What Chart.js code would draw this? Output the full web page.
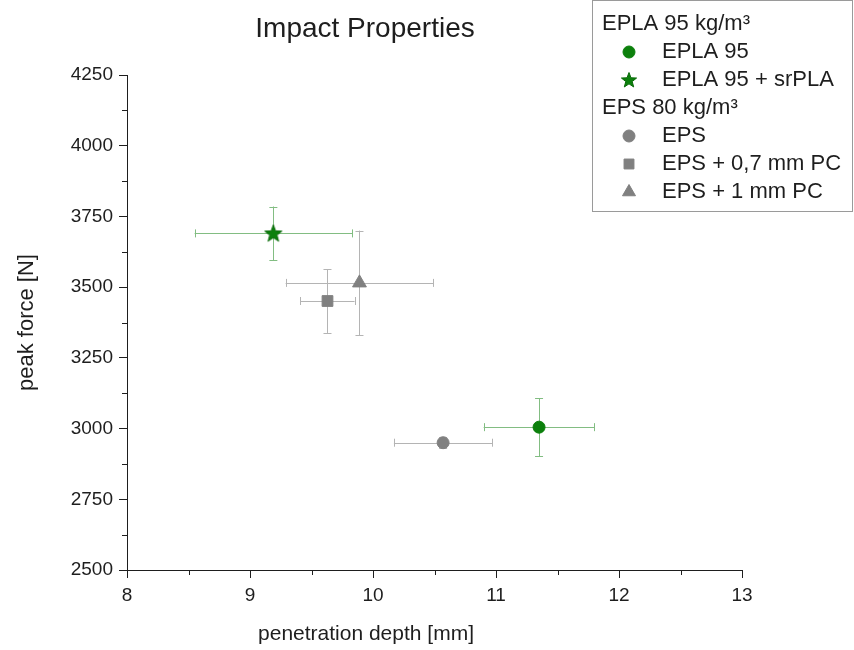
<!DOCTYPE html>
<html><head><meta charset="utf-8">
<script src="https://cdn.jsdelivr.net/npm/chart.js@4.4.1/dist/chart.umd.min.js"></script>
<style>html,body{margin:0;padding:0;background:#fff}#wrap{width:854px;height:650px;position:relative}</style>
</head><body><div id="wrap"><canvas id="c"></canvas></div>
<script>
// ---- data ----
const chartTitle = 'Impact Properties';
const xTitle = 'penetration depth [mm]';
const yTitle = 'peak force [N]';
const seriesNames = ['EPLA 95', 'EPLA 95 + srPLA', 'EPS', 'EPS + 0,7 mm PC', 'EPS + 1 mm PC'];
const groupNames = ['EPLA 95 kg/m³', 'EPS 80 kg/m³'];
const seriesGroup = [0, 0, 1, 1, 1];
const depth = [11.35, 9.19, 10.57, 9.63, 9.89];
const depthErr = [0.45, 0.64, 0.40, 0.22, 0.60];
const force = [3005, 3690, 2950, 3451, 3515];
const forceErr = [103, 95, 20, 113, 185];
const xTicks = [8, 9, 10, 11, 12, 13];
const yTicks = [2500, 2750, 3000, 3250, 3500, 3750, 4000, 4250];

// ---- styles ----
const groupColor = ['#0c800c', '#808080'];
const groupErrColor = ['#82bd82', '#b4b4b4'];
const FONT = "'Liberation Sans', Arial, sans-serif";
const TXT = '#1e1e1e';

function makeStar(r, fill, stroke) {
  const c = document.createElement('canvas');
  const s = Math.ceil(r * 2 + 2);
  c.width = s; c.height = s;
  const g = c.getContext('2d');
  g.beginPath();
  for (let k = 0; k < 10; k++) {
    const rr = k % 2 === 0 ? r : r * 0.42;
    const a = -Math.PI / 2 + k * Math.PI / 5;
    const px = s / 2 + rr * Math.cos(a), py = s / 2 + 0.5 + rr * Math.sin(a);
    k === 0 ? g.moveTo(px, py) : g.lineTo(px, py);
  }
  g.closePath();
  g.fillStyle = fill; g.fill();
  g.strokeStyle = stroke; g.lineWidth = 1; g.stroke();
  return c;
}
const starImg = makeStar(9, '#0c800c', '#0a6a0a');
const starImgLeg = makeStar(8, '#0c800c', '#0a6a0a');
const pointStyles = ['circle', starImg, 'circle', 'rect', 'triangle'];
const legendStyles = ['circle', starImgLeg, 'circle', 'rect', 'triangle'];
const pointRadius = [6, 9, 6, 7.6, 8];
const legendRadius = [6, 8, 6, 7, 7.5];

const datasets = seriesNames.map((n, i) => ({
  label: n,
  data: [{ x: depth[i], y: force[i] }],
  pointStyle: pointStyles[i],
  pointRadius: pointRadius[i],
  pointHoverRadius: pointRadius[i],
  backgroundColor: groupColor[seriesGroup[i]],
  borderColor: groupColor[seriesGroup[i]],
  borderWidth: 1,
  showLine: false
}));

const errorBars = {
  id: 'errorBars',
  beforeDatasetsDraw(chart) {
    const { ctx, scales: { x, y } } = chart;
    ctx.save();
    ctx.lineWidth = 1;
    for (let i = 0; i < depth.length; i++) {
      ctx.strokeStyle = groupErrColor[seriesGroup[i]];
      const cx = x.getPixelForValue(depth[i]), cy = y.getPixelForValue(force[i]);
      const x0 = x.getPixelForValue(depth[i] - depthErr[i]), x1 = x.getPixelForValue(depth[i] + depthErr[i]);
      const y0 = y.getPixelForValue(force[i] - forceErr[i]), y1 = y.getPixelForValue(force[i] + forceErr[i]);
      const cap = 4;
      ctx.beginPath();
      ctx.moveTo(x0, Math.round(cy) + 0.5); ctx.lineTo(x1, Math.round(cy) + 0.5);
      ctx.moveTo(Math.round(x0) + 0.5, cy - cap); ctx.lineTo(Math.round(x0) + 0.5, cy + cap);
      ctx.moveTo(Math.round(x1) + 0.5, cy - cap); ctx.lineTo(Math.round(x1) + 0.5, cy + cap);
      ctx.moveTo(Math.round(cx) + 0.5, y0); ctx.lineTo(Math.round(cx) + 0.5, y1);
      ctx.moveTo(cx - cap, Math.round(y0) + 0.5); ctx.lineTo(cx + cap, Math.round(y0) + 0.5);
      ctx.moveTo(cx - cap, Math.round(y1) + 0.5); ctx.lineTo(cx + cap, Math.round(y1) + 0.5);
      ctx.stroke();
    }
    ctx.restore();
  }
};

const minorTicks = {
  id: 'minorTicks',
  afterDraw(chart) {
    const { ctx, scales: { x, y }, chartArea } = chart;
    ctx.save();
    ctx.strokeStyle = TXT; ctx.lineWidth = 1;
    ctx.beginPath();
    for (let k = 0; k < xTicks.length - 1; k++) {
      const px = Math.round(x.getPixelForValue((xTicks[k] + xTicks[k + 1]) / 2)) + 0.5;
      ctx.moveTo(px, chartArea.bottom); ctx.lineTo(px, chartArea.bottom + 5);
    }
    for (let k = 0; k < yTicks.length - 1; k++) {
      const py = Math.round(y.getPixelForValue((yTicks[k] + yTicks[k + 1]) / 2)) + 0.5;
      ctx.moveTo(chartArea.left, py); ctx.lineTo(chartArea.left - 5, py);
    }
    ctx.stroke();
    ctx.restore();
  }
};

const texts = {
  id: 'texts',
  afterDraw(chart) {
    const ctx = chart.ctx;
    ctx.save();
    ctx.fillStyle = TXT;
    ctx.textAlign = 'center';
    ctx.textBaseline = 'alphabetic';
    ctx.font = '28px ' + FONT;
    ctx.fillText(chartTitle, 365, 37);
    ctx.font = '21px ' + FONT;
    ctx.fillText(xTitle, 366, 640);
    ctx.restore();
  }
};

function drawMarker(ctx, style, r, color, px, py) {
  ctx.save();
  ctx.fillStyle = color; ctx.strokeStyle = color; ctx.lineWidth = 1;
  if (Chart.helpers && Chart.helpers.drawPoint) {
    Chart.helpers.drawPoint(ctx, { pointStyle: style, radius: r, rotation: 0, borderWidth: 1 }, px, py);
  } else if (style instanceof HTMLCanvasElement) {
    ctx.drawImage(style, px - style.width / 2, py - style.height / 2);
  } else {
    ctx.beginPath(); ctx.arc(px, py, r, 0, Math.PI * 2); ctx.fill();
  }
  ctx.restore();
}

const legendBox = {
  id: 'legendBox',
  afterDraw(chart) {
    const ctx = chart.ctx;
    ctx.save();
    ctx.fillStyle = '#fff';
    ctx.fillRect(592, 0, 261, 211);
    ctx.strokeStyle = '#9a9a9a'; ctx.lineWidth = 1;
    ctx.strokeRect(592.5, 0.5, 260, 211);
    ctx.font = '22px ' + FONT;
    ctx.textBaseline = 'middle';
    ctx.textAlign = 'left';
    let row = 0;
    const rowY = r => 24 + 28 * r;
    for (let g = 0; g < groupNames.length; g++) {
      ctx.fillStyle = TXT;
      ctx.fillText(groupNames[g], 602, rowY(row)); row++;
      for (let i = 0; i < seriesNames.length; i++) {
        if (seriesGroup[i] !== g) continue;
        drawMarker(ctx, legendStyles[i], legendRadius[i], groupColor[g], 629, rowY(row));
        ctx.fillStyle = TXT;
        ctx.fillText(seriesNames[i], 662, rowY(row));
        row++;
      }
    }
    ctx.restore();
  }
};

new Chart(document.getElementById('c'), {
  type: 'scatter',
  data: { datasets },
  options: {
    responsive: true,
    maintainAspectRatio: false,
    animation: false,
    events: [],
    layout: { padding: { top: 75, right: 112, left: 0, bottom: 0 } },
    plugins: { legend: { display: false }, tooltip: { enabled: false }, title: { display: false } },
    scales: {
      x: {
        type: 'linear', min: xTicks[0], max: xTicks[xTicks.length - 1],
        afterBuildTicks: s => { s.ticks = xTicks.map(v => ({ value: v })); },
        afterFit: s => { s.height = 80; },
        grid: { display: true, drawOnChartArea: false, drawTicks: true, tickLength: 8, tickColor: TXT, color: TXT },
        border: { display: true, color: TXT, width: 1 },
        ticks: { color: TXT, font: { family: FONT, size: 19 }, padding: 6, maxRotation: 0, autoSkip: false, callback: v => String(v) },
        title: { display: false }
      },
      y: {
        type: 'linear', min: yTicks[0], max: yTicks[yTicks.length - 1],
        afterBuildTicks: s => { s.ticks = yTicks.map(v => ({ value: v })); },
        afterFit: s => { s.width = 127; },
        grid: { display: true, drawOnChartArea: false, drawTicks: true, tickLength: 8, tickColor: TXT, color: TXT },
        border: { display: true, color: TXT, width: 1 },
        ticks: { color: TXT, font: { family: FONT, size: 19 }, padding: 6, autoSkip: false, callback: v => String(v) },
        title: { display: true, text: yTitle, color: TXT, font: { family: FONT, size: 22 }, padding: { top: 14, bottom: 0 } }
      }
    }
  },
  plugins: [errorBars, minorTicks, texts, legendBox]
});
</script>
</body></html>
